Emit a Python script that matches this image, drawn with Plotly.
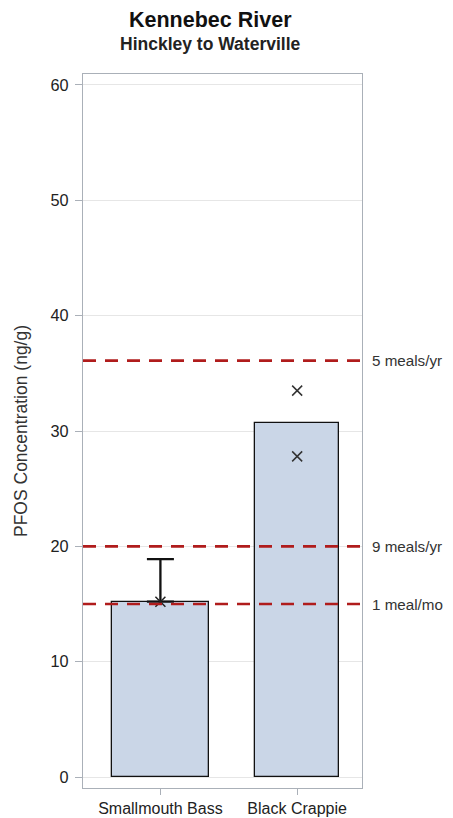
import plotly.graph_objects as go

species = ["Smallmouth Bass", "Black Crappie"]
mean_pfos = [15.2, 30.7]
upper_err = [3.7, None]
crappie_points = [33.5, 27.8]
advisory_levels = [36.1, 20.0, 15.0]
advisory_labels = ["5 meals/yr", "9 meals/yr", "1 meal/mo"]
y_ticks = [0, 10, 20, 30, 40, 50, 60]

FONT = "Liberation Sans, Arial, sans-serif"
TXT = "#333333"
TITLE_X = (210 - 83) / 279

fig = go.Figure()
fig.add_trace(go.Bar(
    x=species, y=mean_pfos, width=[0.708, 0.613],
    marker=dict(color="#cad6e7", line=dict(color="#111111", width=1.3)),
    showlegend=False, hoverinfo="skip",
))
fig.add_trace(go.Scatter(
    x=[species[0]], y=[mean_pfos[0]], mode="markers",
    marker=dict(symbol="x-thin", size=10, line=dict(color="#222222", width=1.5)),
    error_y=dict(type="data", symmetric=False, array=[upper_err[0]], arrayminus=[0],
                 color="#111111", thickness=2.3, width=13.5),
    showlegend=False,
))
fig.add_trace(go.Scatter(
    x=[species[1]] * len(crappie_points), y=crappie_points, mode="markers",
    marker=dict(symbol="x-thin", size=10, line=dict(color="#333333", width=1.5)),
    showlegend=False,
))

for lvl, lab in zip(advisory_levels, advisory_labels):
    fig.add_shape(type="line", xref="paper", yref="y", x0=0, x1=1, y0=lvl, y1=lvl,
                  line=dict(color="#b01c1c", width=2.6, dash="13px,9px"), layer="above")
    fig.add_annotation(xref="paper", yref="y", x=1, y=lvl, text=lab, showarrow=False,
                       xanchor="left", xshift=8, font=dict(family=FONT, size=15.2, color=TXT))

fig.add_annotation(xref="paper", yref="paper", x=TITLE_X, y=1, yshift=74 - 20,
                   text="<b>Kennebec River</b>", showarrow=False, xanchor="center", yanchor="middle",
                   font=dict(family=FONT, size=21.5, color="#111111"))
fig.add_annotation(xref="paper", yref="paper", x=TITLE_X, y=1, yshift=74 - 44,
                   text="<b>Hinckley to Waterville</b>", showarrow=False, xanchor="center", yanchor="middle",
                   font=dict(family=FONT, size=17.5, color="#222222"))

# page body adds an 8px offset; compensate so the plot lands at the reference position
fig.update_layout(
    width=445, height=810,
    margin=dict(l=75, r=91, t=66, b=30),
    paper_bgcolor="white", plot_bgcolor="white",
    font=dict(family=FONT, size=13, color=TXT),
    bargap=0,
)
fig.update_xaxes(
    type="category", range=[-0.566, 1.474], automargin=False,
    showline=True, linecolor="#aab0b8", linewidth=1.3, mirror=True,
    ticks="outside", ticklen=6, tickcolor="#aab0b8", showgrid=False,
    tickfont=dict(family=FONT, size=16, color="#222222"), ticklabelstandoff=0,
)
fig.update_yaxes(
    range=[-0.95, 60.95], tickvals=y_ticks, automargin=False,
    showline=True, linecolor="#aab0b8", linewidth=1.3, mirror=True,
    ticks="outside", ticklen=7, tickcolor="#aab0b8",
    showgrid=True, gridcolor="#e6e6e6", gridwidth=1, zeroline=False,
    tickfont=dict(family=FONT, size=16.3, color="#222222"), ticklabelstandoff=3,
    title=dict(text="PFOS Concentration (ng/g)", font=dict(family=FONT, size=17.5, color=TXT), standoff=18),
)

fig.write_html("out.html")
